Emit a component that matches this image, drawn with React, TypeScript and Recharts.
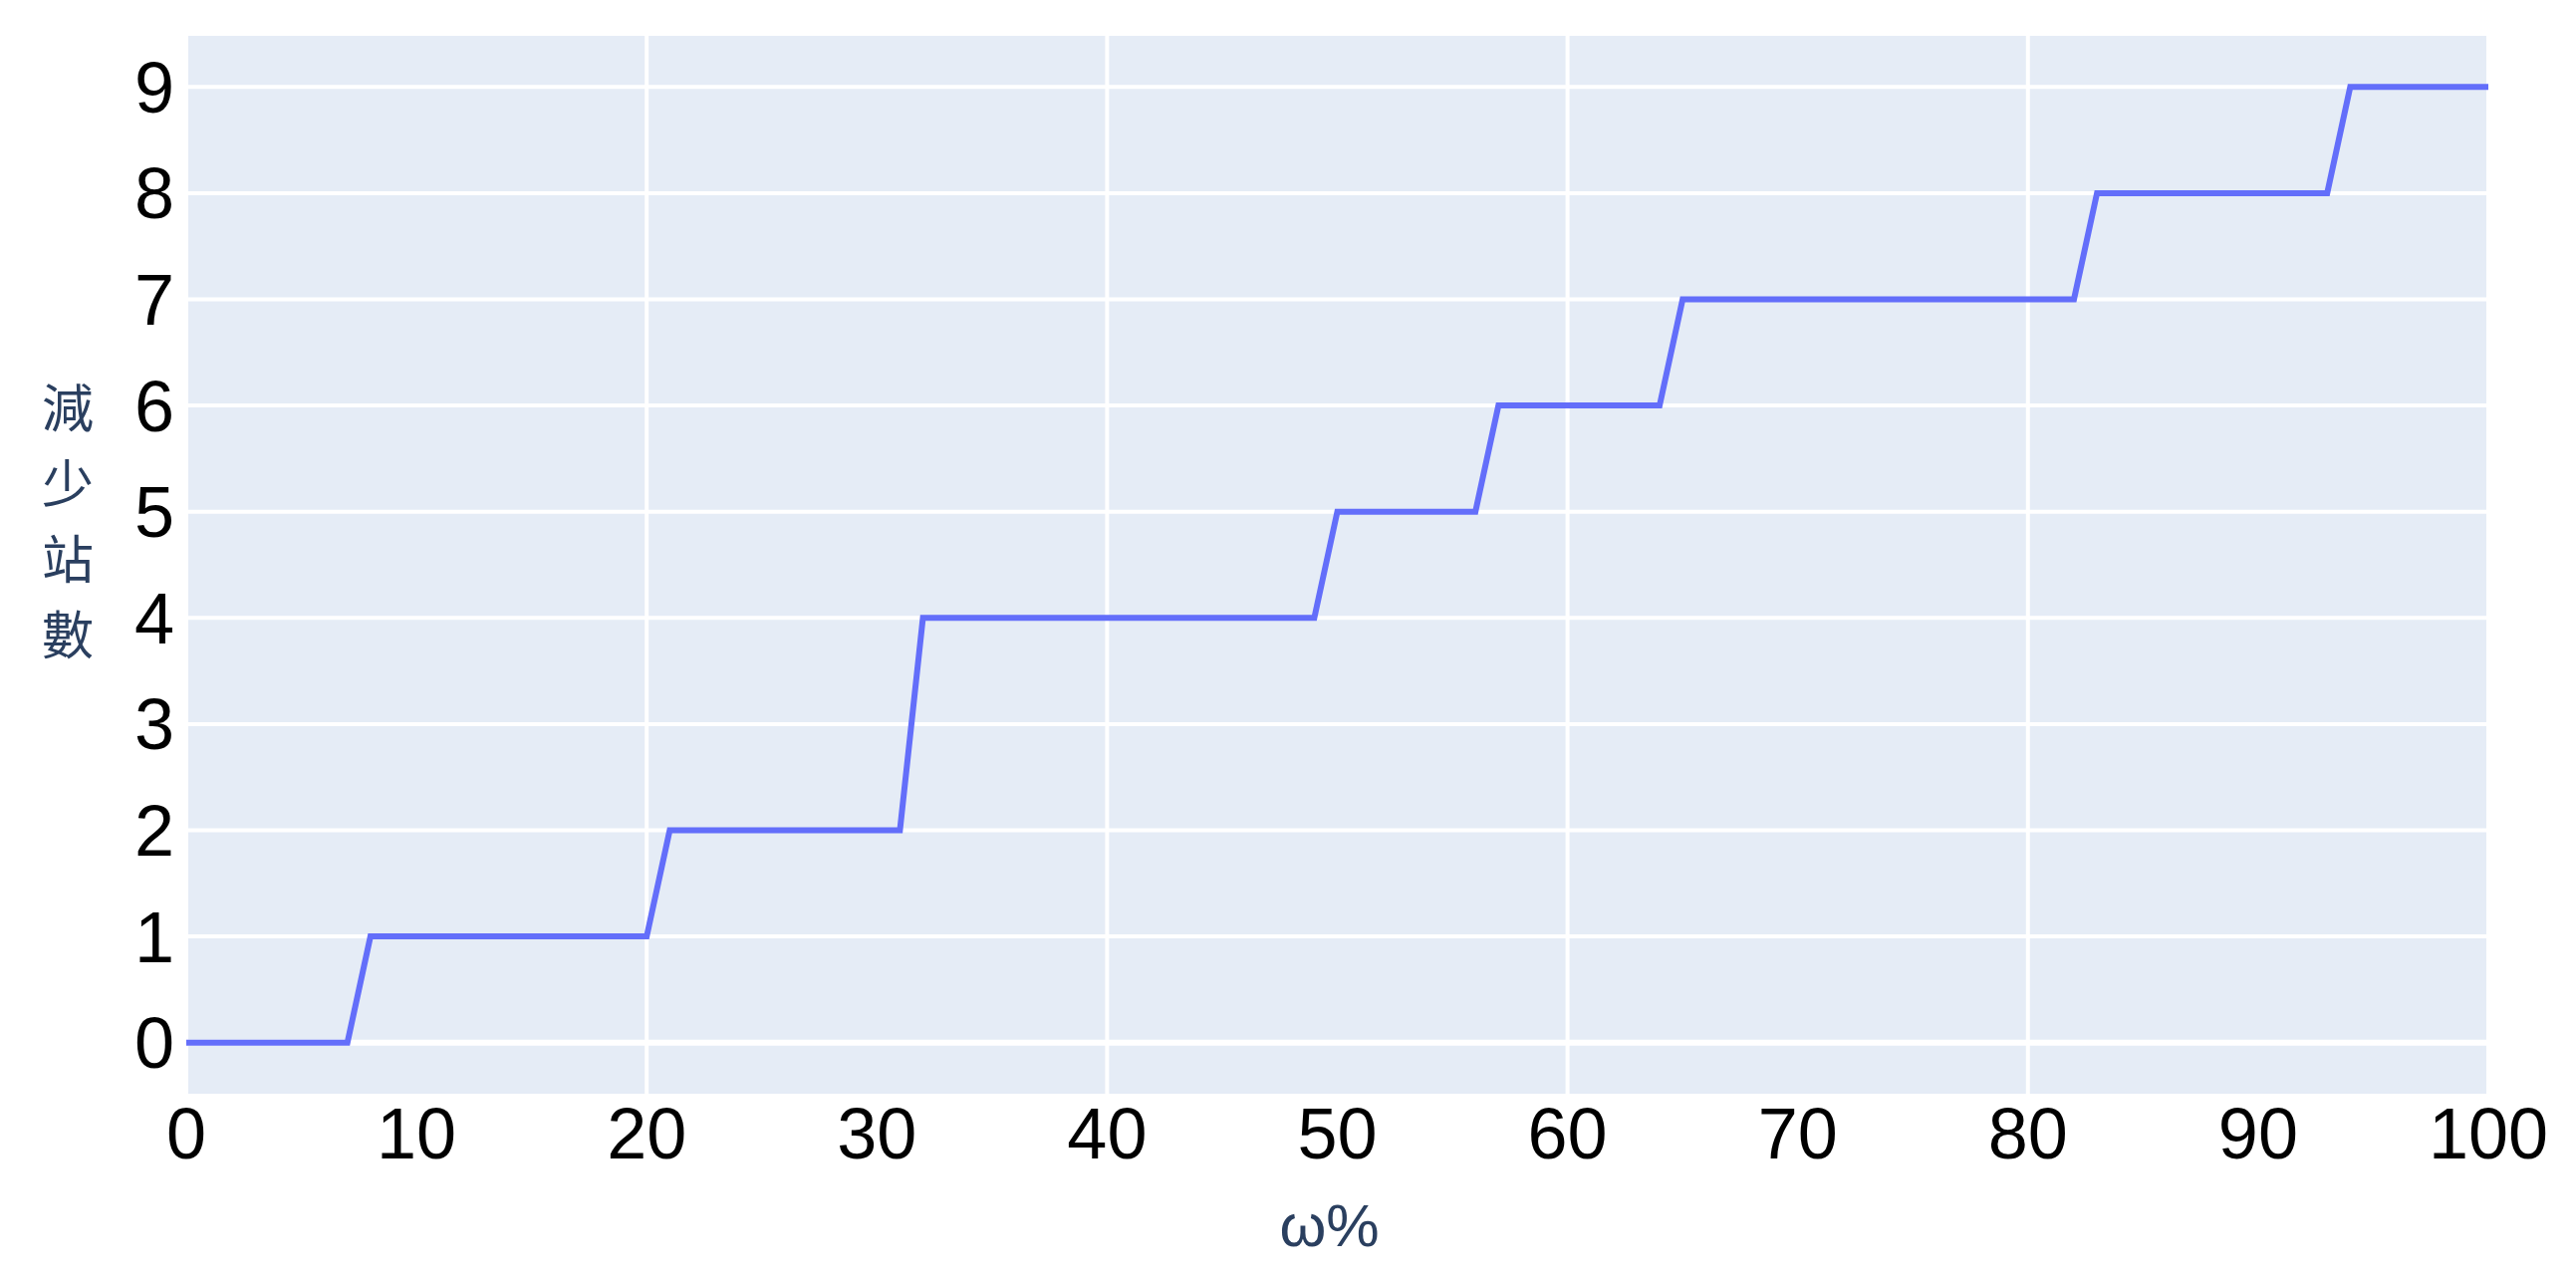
import React from 'react';
import {
  LineChart,
  Line,
  XAxis,
  YAxis,
  CartesianGrid,
  ReferenceLine,
  Label
} from 'recharts';

// ω% where the count steps up, with the value before/after each step
const omegaPct = [0, 7, 8, 20, 21, 31, 32, 49, 50, 56, 57, 64, 65, 82, 83, 93, 94, 100];
const stationsReduced = [0, 0, 1, 1, 2, 2, 4, 4, 5, 5, 6, 6, 7, 7, 8, 8, 9, 9];

const xTicks = [0, 10, 20, 30, 40, 50, 60, 70, 80, 90, 100];
const xGridTicks = [0, 20, 40, 60, 80, 100];
const yTicks = [0, 1, 2, 3, 4, 5, 6, 7, 8, 9];
const yTitleChars = ['減', '少', '站', '數'];

const data = omegaPct.map((x, i) => ({ omega: x, reduced: stationsReduced[i] }));

const TICK_FONT = '"Liberation Sans", Arial, sans-serif';
const TITLE_COLOR = '#2a3f5f';

// stacked vertical title, as plotly does with <br>
const YTitle = () => {
  const step = 76;
  const start = 402;
  return (
    <g>
      {yTitleChars.map((c, i) => (
        <text
          key={c}
          x={60}
          y={start + i * step}
          dy="0.36em"
          textAnchor="middle"
          fill={TITLE_COLOR}
          fontSize={52}
          fontFamily='"Noto Sans CJK TC", sans-serif'
        >
          {c}
        </text>
      ))}
    </g>
  );
};

const XTitle = ({ viewBox }: any) => (
  <text
    x={viewBox.x + viewBox.width / 2 - 8}
    y={1221}
    dy="0.36em"
    textAnchor="middle"
    fill={TITLE_COLOR}
    fontSize={60}
    fontFamily={TICK_FONT}
  >
    ω%
  </text>
);

export default function App() {
  return (
    <div style={{ width: 2570, height: 1270, background: '#fff' }}>
      <LineChart
        width={2570}
        height={1270}
        data={data}
        margin={{ top: 26, right: 80, bottom: 0, left: 0 }}
      >
        <CartesianGrid
          xAxisId="grid"
          fill="#E5ECF6"
          stroke="#ffffff"
          strokeWidth={4}
          fillOpacity={1}
        />
        <XAxis
          xAxisId="grid"
          dataKey="omega"
          type="number"
          domain={[0, 100]}
          ticks={xGridTicks}
          hide
        />
        <XAxis
          dataKey="omega"
          type="number"
          domain={[0, 100]}
          ticks={xTicks}
          interval={0}
          axisLine={false}
          tickLine={false}
          tickSize={0}
          tickMargin={12}
          height={178}
          tick={{ fill: '#000', fontSize: 72, fontFamily: TICK_FONT }}
        >
          <Label content={<XTitle />} />
        </XAxis>
        <YAxis
          type="number"
          domain={[-0.5, 9.5]}
          ticks={yTicks}
          interval={0}
          width={179}
          axisLine={false}
          tickLine={false}
          tickSize={0}
          tickMargin={12}
          tick={{ fill: '#000', fontSize: 72, fontFamily: TICK_FONT }}
        >
          <Label content={<YTitle />} />
        </YAxis>
        <ReferenceLine y={0} stroke="#ffffff" strokeWidth={6} />
        <Line
          type="linear"
          dataKey="reduced"
          stroke="#636EFA"
          strokeWidth={6}
          dot={false}
          activeDot={false}
          isAnimationActive={false}
        />
      </LineChart>
    </div>
  );
}
